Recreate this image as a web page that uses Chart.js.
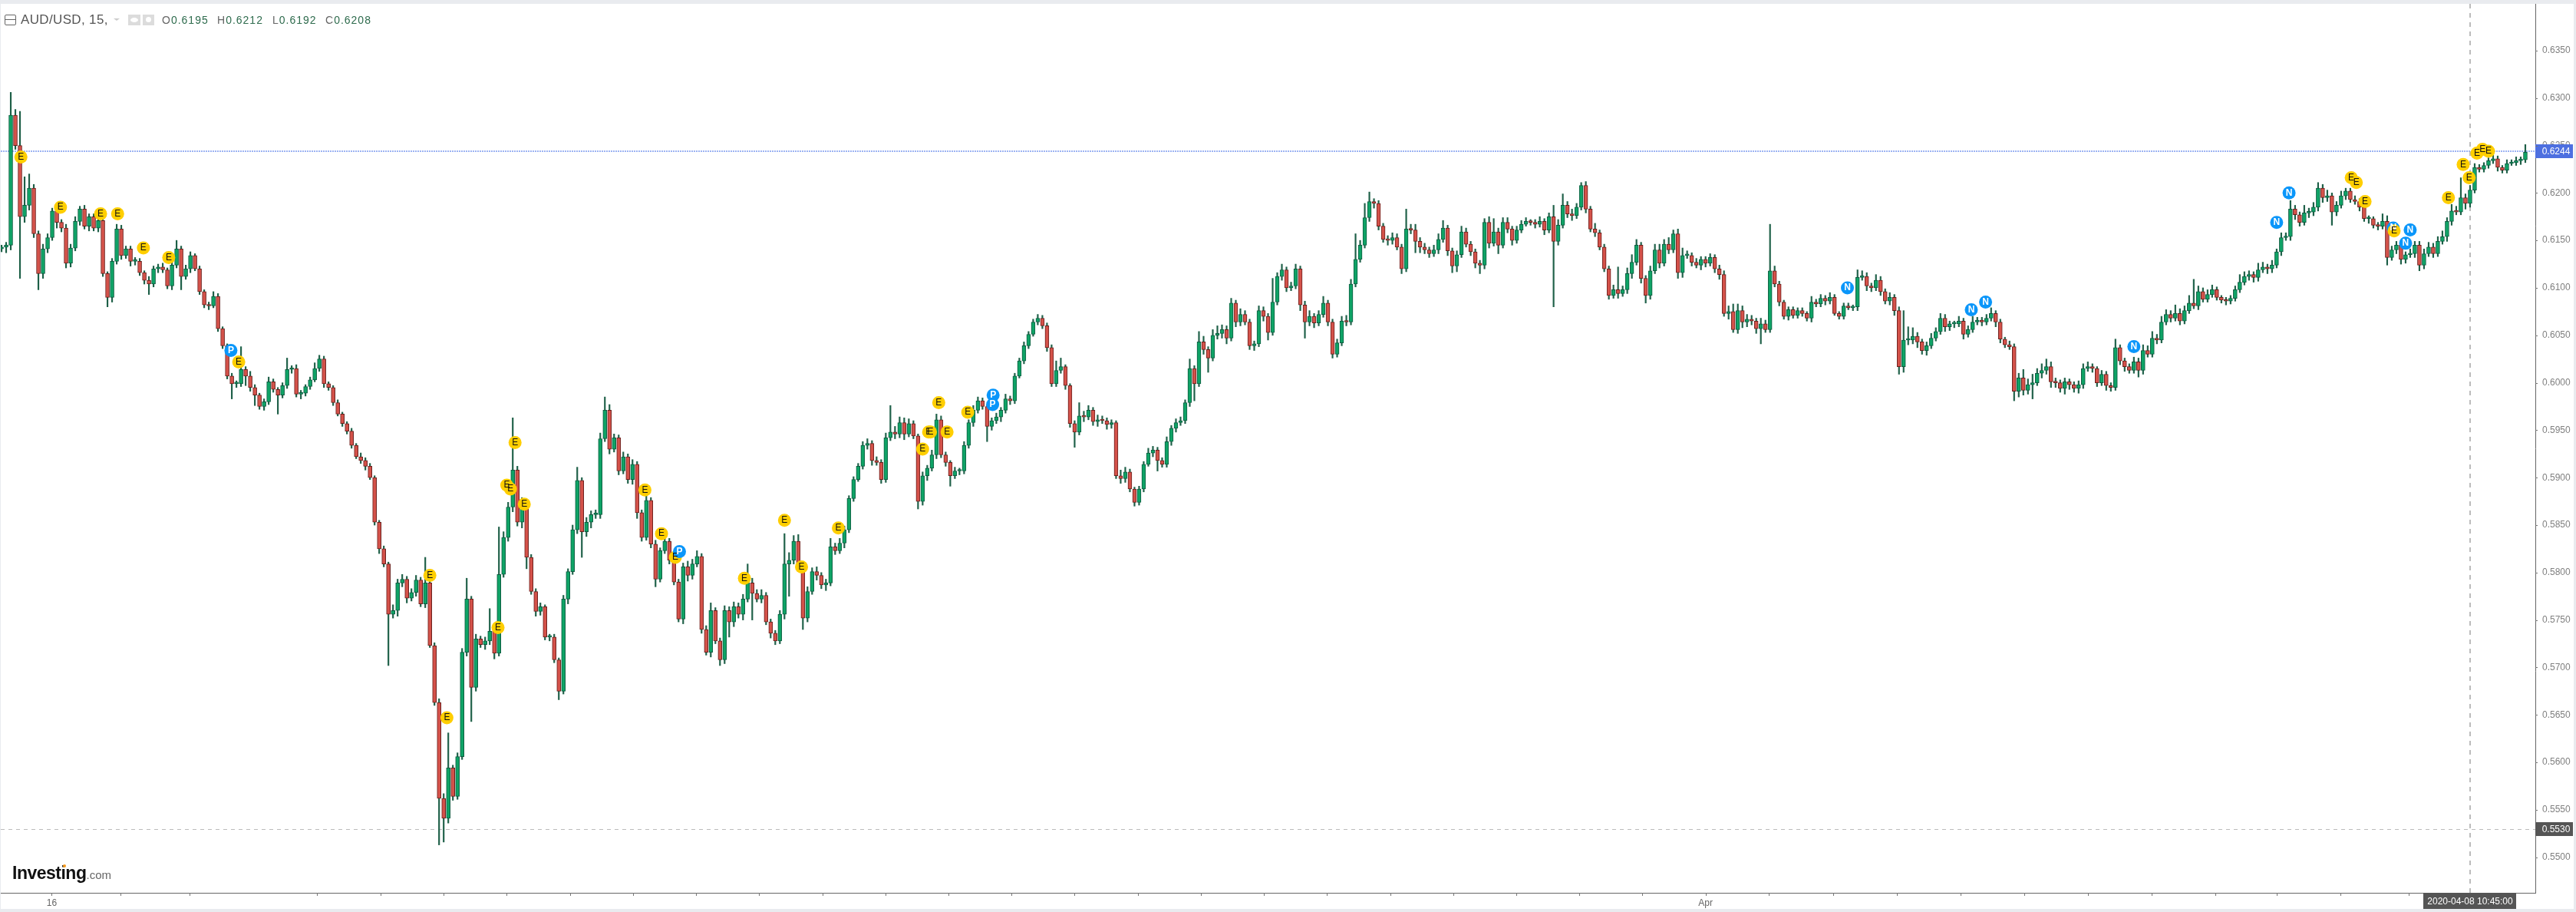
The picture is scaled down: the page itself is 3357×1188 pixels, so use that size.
<!DOCTYPE html>
<html>
<head>
<meta charset="utf-8">
<title>AUD/USD, 15</title>
<script src="https://cdn.jsdelivr.net/npm/chart.js@4"></script>
<style>
    html, body { margin: 0; padding: 0; background: #e9ebef; }
    body { position: relative; width: 3357px; height: 1188px; overflow: hidden; font-family: "Liberation Sans", Arial, sans-serif; }
    #frame { position: absolute; left: 1px; top: 5px; width: 3353px; height: 1179px; background: #fff; }
    #frame canvas { display: block; }
    .txt { position: absolute; white-space: nowrap; }
    .box { position: absolute; }
    .ohlc { font-size: 14px; letter-spacing: 1px; color: #666; top: 18px; }
    .ohlc b { font-weight: normal; color: #2e6b4d; }
</style>
</head>
<body>
<div id="frame"><canvas id="priceChart" width="3353" height="1179"></canvas></div>

<!-- legend row -->
<div class="box" style="left:6px;top:19px;width:13px;height:12px;border:1px solid #666;border-radius:2px"></div>
<div class="box" style="left:7px;top:25px;width:13px;height:1px;background:#666"></div>
<div class="txt" style="left:27px;top:16px;font-size:17px;letter-spacing:.35px;color:#555">AUD/USD, 15,</div>
<div class="box" style="left:148px;top:24px;border-left:4px solid transparent;border-right:4px solid transparent;border-top:3px solid #ccc"></div>
<div class="box" style="left:167px;top:19px;width:16px;height:14px;background:#dcdcdc"></div>
<div class="box" style="left:170px;top:23px;width:10px;height:6px;background:#fff;border-radius:50%"></div>
<div class="box" style="left:186px;top:19px;width:15px;height:14px;background:#dcdcdc"></div>
<div class="box" style="left:190px;top:22px;width:7px;height:7px;background:#fff;border-radius:50%"></div>
<div class="txt ohlc" style="left:211px">O<b>0.6195</b></div>
<div class="txt ohlc" style="left:283px">H<b>0.6212</b></div>
<div class="txt ohlc" style="left:355px">L<b>0.6192</b></div>
<div class="txt ohlc" style="left:424px">C<b>0.6208</b></div>

<!-- logo -->
<div class="txt" style="left:16px;top:1124px;font-size:23px;font-weight:bold;letter-spacing:-.5px;color:#111">Investing<span style="font-size:15px;font-weight:normal;letter-spacing:0;color:#666">.com</span></div>
<div class="box" style="left:82px;top:1126px;width:4px;height:4px;background:#f59a1c;border-radius:50%"></div>

<script>
// closing prices in pips (0.0001), one candle per slot
const closes = [
    6143,6145,6282,6250,6175,6187,6205,6157,6115,6141,
    6153,6181,6169,6163,6126,6142,6170,6183,6165,6175,
    6163,6171,6115,6090,6128,6162,6134,6141,6128,6128,
    6116,6108,6104,6120,6122,6119,6102,6124,6141,6112,
    6120,6134,6120,6096,6082,6081,6091,6057,6039,6007,
    5999,5999,6014,6007,5995,5987,5975,5980,6001,5993,
    5987,5997,6014,6015,5988,5989,5996,6003,6015,6025,
    5999,5995,5979,5967,5957,5949,5934,5922,5918,5912,
    5900,5853,5825,5809,5756,5760,5789,5793,5773,5779,
    5792,5767,5789,5723,5663,5562,5541,5594,5564,5606,
    5716,5772,5679,5730,5724,5728,5738,5715,5798,5837,
    5869,5908,5853,5873,5816,5780,5759,5764,5732,5732,
    5708,5675,5772,5801,5845,5897,5843,5853,5861,5861,
    5941,5971,5930,5942,5907,5922,5898,5914,5863,5837,
    5876,5830,5793,5823,5833,5813,5790,5751,5806,5797,
    5809,5817,5740,5716,5760,5728,5708,5760,5748,5764,
    5756,5772,5789,5778,5772,5776,5748,5736,5728,5756,
    5809,5813,5833,5807,5752,5780,5801,5797,5787,5789,
    5827,5823,5831,5845,5878,5898,5912,5934,5936,5918,
    5916,5898,5942,5948,5946,5958,5946,5957,5944,5875,
    5902,5910,5924,5961,5924,5916,5902,5907,5907,5934,
    5958,5971,5981,5975,5954,5960,5964,5971,5983,5981,
    6007,6023,6039,6051,6064,6068,6060,6037,5999,6013,
    6017,5997,5957,5948,5965,5964,5971,5959,5961,5960,
    5956,5958,5902,5899,5906,5888,5874,5888,5914,5926,
    5929,5918,5914,5938,5952,5958,5960,5979,6015,5999,
    6043,6035,6026,6050,6052,6056,6047,6084,6064,6072,
    6064,6039,6041,6076,6070,6053,6085,6112,6119,6100,
    6102,6120,6082,6064,6070,6063,6072,6084,6064,6030,
    6042,6065,6064,6104,6130,6145,6174,6191,6189,6165,
    6151,6150,6153,6143,6120,6162,6161,6149,6143,6140,
    6136,6140,6151,6163,6139,6123,6135,6159,6146,6138,
    6126,6124,6169,6147,6159,6145,6169,6162,6150,6161,
    6167,6170,6169,6167,6170,6161,6175,6149,6166,6187,
    6178,6176,6185,6208,6183,6162,6158,6143,6120,6092,
    6098,6094,6098,6115,6127,6145,6110,6092,6118,6140,
    6126,6146,6140,6157,6116,6134,6134,6127,6124,6130,
    6126,6132,6120,6114,6073,6075,6056,6076,6064,6067,
    6065,6057,6062,6056,6118,6104,6085,6070,6077,6071,
    6076,6073,6068,6085,6083,6089,6086,6090,6073,6070,
    6081,6079,6080,6111,6112,6102,6100,6108,6096,6086,
    6090,6076,6017,6045,6045,6049,6043,6034,6039,6047,
    6054,6068,6059,6062,6062,6065,6051,6056,6064,6066,
    6064,6068,6073,6064,6046,6040,6038,5991,6005,5992,
    5998,6000,6010,6013,6017,6001,6000,5994,6001,5998,
    5994,5998,6015,6017,6015,6000,6009,5997,5995,6037,
    6023,6017,6013,6022,6013,6034,6030,6047,6045,6064,
    6072,6068,6073,6065,6076,6084,6081,6096,6088,6093,
    6098,6090,6087,6086,6089,6098,6106,6112,6114,6111,
    6119,6122,6120,6124,6138,6153,6154,6183,6177,6169,
    6179,6180,6185,6205,6195,6197,6180,6187,6197,6202,
    6193,6191,6185,6173,6173,6166,6165,6170,6132,6140,
    6145,6130,6135,6136,6145,6124,6136,6143,6136,6149,
    6154,6170,6181,6180,6195,6189,6203,6227,6225,6229,
    6234,6236,6227,6224,6231,6232,6234,6235,6243
];

// wick length above the body, in pips
const upperWicks = [
    2,3,24,6,36,30,15,4,3,5,
    4,3,5,3,4,4,5,3,4,3,
    3,4,3,2,3,5,4,3,3,4,
    3,2,4,3,3,4,2,4,9,3,
    4,4,2,3,2,3,5,3,2,2,
    3,3,24,3,5,3,2,3,5,3,
    2,3,12,3,4,3,2,3,6,4,
    3,2,2,3,2,2,3,2,4,3,
    3,2,2,3,2,6,4,5,3,4,
    5,3,27,3,3,4,5,37,3,4,
    4,22,3,5,3,4,24,3,50,6,
    5,55,4,6,3,3,3,4,2,3,
    3,2,4,3,5,14,3,5,4,5,
    6,14,6,4,3,5,3,5,3,3,
    5,3,4,3,4,3,3,3,4,6,
    5,6,3,4,8,3,3,5,4,5,
    4,5,20,5,4,6,3,3,3,4,
    32,8,6,7,3,5,4,5,3,4,
    9,4,5,4,3,3,3,4,5,3,
    4,3,5,28,6,6,5,5,3,2,
    4,3,5,6,4,3,2,4,3,4,
    3,5,4,3,2,3,4,3,5,3,
    3,3,4,3,3,4,3,3,3,10,
    9,2,2,3,14,5,5,3,5,4,
    3,3,2,6,5,3,2,3,3,5,
    4,3,3,5,3,4,4,3,10,3,
    11,6,3,6,8,5,4,5,3,6,
    4,3,3,5,4,3,25,4,6,3,
    4,5,3,4,6,3,4,7,3,3,
    4,5,6,5,27,5,15,10,3,3,
    3,4,5,4,3,21,5,6,4,4,
    3,5,6,8,3,3,4,6,4,3,
    3,3,4,6,14,4,5,5,3,4,
    4,4,2,3,5,3,4,12,6,12,
    4,5,4,3,4,3,6,3,3,3,
    5,24,4,6,8,6,3,3,5,6,
    6,5,7,4,5,8,5,3,4,3,
    3,4,3,4,4,6,8,7,5,5,
    4,3,6,4,49,5,3,2,3,3,
    3,3,2,6,3,4,3,5,3,2,
    3,3,2,8,6,4,3,6,4,3,
    5,3,4,31,14,9,4,3,4,5,
    4,5,4,3,3,5,3,4,6,3,
    3,4,6,3,3,2,4,3,5,9,
    6,9,5,7,8,5,4,3,4,3,
    3,4,5,5,3,2,4,3,3,9,
    3,3,3,5,4,6,5,7,4,6,
    5,4,9,5,5,8,25,6,4,5,
    5,3,2,3,3,4,8,5,4,3,
    7,5,3,5,3,5,4,9,4,3,
    8,4,5,6,4,6,3,4,5,3,
    3,4,3,3,3,2,3,8,6,4,
    4,5,3,5,4,4,5,5,4,5,
    6,4,7,5,21,4,5,4,3,3,
    3,4,3,2,4,3,4,3,8
];

// wick length below the body, in pips
const lowerWicks = [
    3,6,5,4,65,6,5,4,17,5,
    4,3,6,4,5,4,3,4,3,5,
    3,4,3,10,5,3,4,3,5,4,
    3,4,11,3,4,3,3,4,3,14,
    3,4,2,3,3,4,2,3,3,3,
    16,4,3,10,4,11,3,4,3,3,
    20,3,3,4,3,5,3,3,2,3,
    4,3,3,2,3,3,3,2,3,4,
    2,3,5,3,54,4,6,4,5,3,
    4,3,4,2,3,49,25,5,4,3,
    3,4,36,4,3,5,4,6,3,3,
    4,5,4,6,12,3,5,4,3,4,
    3,9,3,5,3,4,27,5,6,4,
    4,3,5,3,4,3,4,5,6,4,
    3,4,8,3,3,4,3,3,5,6,
    4,3,4,3,5,3,6,4,16,5,
    4,6,3,28,3,4,3,5,4,3,
    5,34,4,3,12,4,3,5,4,6,
    3,4,3,5,3,3,2,3,4,5,
    3,4,3,3,5,4,6,3,3,8,
    4,5,3,4,3,4,11,3,4,3,
    3,4,3,3,16,4,3,5,3,4,
    3,2,3,3,2,3,3,4,3,3,
    3,4,4,16,3,5,3,4,5,3,
    5,4,3,5,4,3,4,3,3,2,
    4,11,3,3,4,4,3,3,4,18,
    3,5,15,3,4,5,6,3,5,4,
    3,4,5,3,5,8,3,3,4,4,
    3,3,6,17,4,5,3,3,4,4,
    3,3,4,3,3,3,3,4,5,4,
    3,5,4,3,5,3,4,12,6,4,
    4,3,4,3,5,7,6,3,3,4,
    5,9,4,5,3,9,3,4,5,3,
    3,2,3,4,3,5,3,69,4,3,
    4,5,3,3,4,3,4,3,3,4,
    3,5,3,4,5,3,5,8,4,3,
    5,3,4,3,6,5,3,4,3,5,
    4,3,4,5,3,6,3,4,6,5,
    4,5,16,3,3,3,4,3,4,3,
    3,3,3,4,3,3,4,3,2,3,
    3,2,3,4,3,5,4,3,4,3,
    4,5,8,6,5,4,6,4,5,3,
    3,3,5,4,4,3,5,3,3,3,
    4,3,3,5,4,3,3,10,6,5,
    4,15,3,5,4,6,5,4,6,5,
    4,5,4,3,4,4,3,5,4,3,
    4,5,3,3,7,4,3,3,4,3,
    3,4,3,4,3,3,3,4,3,3,
    3,3,3,4,3,3,3,3,4,5,
    4,3,5,4,3,4,3,4,5,4,
    3,5,4,4,5,4,14,4,3,4,
    3,3,4,3,5,3,4,3,8,3,
    4,5,4,3,4,6,4,3,4,3,
    3,5,4,3,3,6,4,3,3,3,
    3,3,4,3,3,2,3,4,3
];

// event markers: candle slot, price in pips, letter (later ones paint on top)
const markerSlots = [
    519.3,
    4.2,12.8,21.5,25.2,30.8,36.3,51.5,93,96.7,111.5,109.7,110.5,113.5,107.8,139.7,143.3,146.3,
    161.3,170,173.7,181.7,200,201.3,201.7,205.3,203.5,209.8,
    510.2,511.3,513.2,519.5,531.3,534.5,535.8,537.5,538.7,540,
    49.8,147.2,215.2,215.3,400.8,427.7,430.8,463,494,496.7,522,523
];
const markerPrices = [
    6163,
    6238,6185,6178,6178,6142,6132,6022,5797,5647,5937,5892,5888,5872,5742,5887,5841,5816,
    5794,5855,5806,5847,5930,5948,5948,5948,5979,5969,
    6216,6211,6191,6160,6195,6230,6216,6242,6246,6244,
    6034,5822,5977,5987,6100,6077,6085,6038,6169,6200,6147,6161
];
const markerLetters = [
    'N',
    'E','E','E','E','E','E','E','E','E','E','E','E','E','E','E','E','E',
    'E','E','E','E','E','E','E','E','E','E',
    'E','E','E','E','E','E','E','E','E','E',
    'P','P','P','P','N','N','N','N','N','N','N','N'
];

const priceTicks = [0.6350,0.6300,0.6250,0.6200,0.6150,0.6100,0.6050,0.6000,0.5950,0.5900,0.5850,0.5800,0.5750,0.5700,0.5650,0.5600,0.5550,0.5500];
const timeTicks = [10.9,25.9,40.8,68.5,82.3,96,109.7,123.4,137.1,150.8,164.5,178.2,191.9,205.6,219.3,233,246.7,260.4,274.1,287.8,301.5,315.2,328.9,342.6,356.3,370,383.8,397.7,411.5,425.4,439.2,453,466.9,480.7,494,507.8,522.6];
const timeLabels = {10.9: '16', 370: 'Apr'};

const lastPrice = 0.6244;
const crossPrice = 0.5530;
const crossSlot = 536;
const crossTime = '2020-04-08 10:45:00';

const opens = closes.map((c, i) => i === 0 ? 6141 : closes[i - 1]);
const slots = closes.map((c, i) => i);

const bodies = slots.map(i => ({x: i, y: [Math.min(opens[i], closes[i]) / 10000, Math.max(opens[i], closes[i]) / 10000]}));
const wicks = slots.map(i => ({x: i, y: [(Math.min(opens[i], closes[i]) - lowerWicks[i]) / 10000, (Math.max(opens[i], closes[i]) + upperWicks[i]) / 10000]}));
const markers = markerSlots.map((s, i) => ({x: s, y: markerPrices[i] / 10000}));

const axisFont = {family: '"Liberation Sans", Arial, sans-serif', size: 12};

// the library pads the axes for the outer tick labels, the reference runs them to the edge
function noAxisPadding(axis) {
    axis.paddingLeft = 0;
    axis.paddingRight = 0;
    axis.paddingTop = 0;
    axis.paddingBottom = 0;
}

const overlays = {
    id: 'overlays',
    beforeDatasetsDraw(chart) {
        const c = chart.ctx, a = chart.chartArea;
        const yAxis = chart.scales.y, xAxis = chart.scales.x;
        c.save();
        // last price line
        c.strokeStyle = '#9db4f2';
        c.lineWidth = 2;
        c.setLineDash([2, 1]);
        let y = Math.round(yAxis.getPixelForValue(lastPrice));
        c.beginPath(); c.moveTo(a.left, y); c.lineTo(a.right, y); c.stroke();
        // crosshair
        c.strokeStyle = '#bcbcbc';
        c.lineWidth = 1;
        c.setLineDash([5, 5]);
        y = Math.round(yAxis.getPixelForValue(crossPrice)) + 0.5;
        c.beginPath(); c.moveTo(a.left, y); c.lineTo(a.right, y); c.stroke();
        c.lineWidth = 2;
        c.setLineDash([6, 6]);
        const x = Math.round(xAxis.getPixelForValue(crossSlot));
        c.beginPath(); c.moveTo(x, a.top); c.lineTo(x, a.bottom); c.stroke();
        c.restore();
    },
    afterDatasetsDraw(chart) {
        const c = chart.ctx, a = chart.chartArea;
        const yAxis = chart.scales.y, xAxis = chart.scales.x;
        c.save();
        c.textAlign = 'center';
        c.textBaseline = 'middle';
        // marker letters
        markers.forEach((m, i) => {
            const blue = markerLetters[i] !== 'E';
            c.fillStyle = blue ? '#ffffff' : '#111111';
            c.font = (blue ? 'bold ' : '') + '12px "Liberation Sans", Arial, sans-serif';
            c.fillText(markerLetters[i], xAxis.getPixelForValue(m.x), yAxis.getPixelForValue(m.y));
        });
        // price badges on the axis
        c.font = '12px "Liberation Sans", Arial, sans-serif';
        [[lastPrice, '#4d6fe0'], [crossPrice, '#555555']].forEach(([price, color]) => {
            const y = Math.round(yAxis.getPixelForValue(price));
            c.fillStyle = color;
            c.fillRect(a.right, y - 9, 49, 18);
            c.fillStyle = '#ffffff';
            c.fillText(price.toFixed(4), a.right + 27, y + 0.5);
        });
        // time badge
        const x = Math.round(xAxis.getPixelForValue(crossSlot));
        c.fillStyle = '#555555';
        c.fillRect(x - 61, a.bottom, 121, 21);
        c.fillStyle = '#ffffff';
        c.fillText(crossTime, x, a.bottom + 12);
        c.restore();
    }
};

new Chart(document.getElementById('priceChart').getContext('2d'), {
    data: {
        datasets: [
            {
                type: 'scatter',
                data: markers,
                order: 0,
                pointRadius: 8.5,
                pointHoverRadius: 8.5,
                pointBorderWidth: 0,
                pointBackgroundColor: markerLetters.map(l => l === 'E' ? '#ffce00' : '#0a96fa')
            },
            {
                type: 'bar',
                data: bodies,
                order: 1,
                grouped: false,
                barThickness: 5,
                minBarLength: 2,
                borderWidth: 1,
                borderSkipped: false,
                backgroundColor: slots.map(i => closes[i] >= opens[i] ? '#0fa366' : '#d4524a'),
                borderColor: slots.map(i => closes[i] >= opens[i] ? '#0e5c40' : '#6a1f1c')
            },
            {
                type: 'bar',
                data: wicks,
                order: 2,
                grouped: false,
                barThickness: 1.5,
                borderWidth: 0,
                backgroundColor: '#1d5f47'
            }
        ]
    },
    options: {
        responsive: false,
        animation: false,
        events: [],
        layout: {padding: 0, autoPadding: false},
        plugins: {
            legend: {display: false},
            tooltip: {enabled: false}
        },
        scales: {
            x: {
                type: 'linear',
                offset: false,
                min: -0.17,
                max: 550.17,
                grid: {display: false, drawTicks: false},
                border: {color: '#666666'},
                afterFit: axis => { axis.height = 21; noAxisPadding(axis); },
                afterBuildTicks: axis => { axis.ticks = timeTicks.map(v => ({value: v})); },
                ticks: {
                    autoSkip: false,
                    maxRotation: 0,
                    padding: 6,
                    color: '#666666',
                    font: axisFont,
                    callback: value => timeLabels[value] || ''
                }
            },
            y: {
                position: 'right',
                min: 0.54625,
                max: 0.63993,
                grid: {display: false},
                border: {color: '#666666'},
                afterFit: axis => { axis.width = 50; noAxisPadding(axis); },
                afterBuildTicks: axis => { axis.ticks = priceTicks.map(v => ({value: v})); },
                ticks: {
                    padding: 1,
                    color: '#808080',
                    font: axisFont,
                    callback: value => value.toFixed(4)
                }
            }
        }
    },
    plugins: [overlays, {
        // short tick marks on both axes
        id: 'tickMarks',
        afterDraw(chart) {
            const c = chart.ctx, a = chart.chartArea;
            c.save();
            c.fillStyle = '#777777';
            timeTicks.forEach(v => c.fillRect(Math.round(chart.scales.x.getPixelForValue(v)), a.bottom, 1, 4));
            priceTicks.forEach(v => c.fillRect(a.right, Math.round(chart.scales.y.getPixelForValue(v)), 3, 1));
            c.restore();
        }
    }]
});
</script>
</body>
</html>
